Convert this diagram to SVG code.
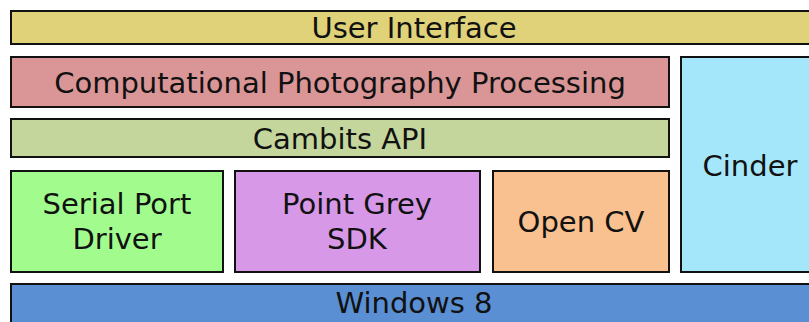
<svg xmlns="http://www.w3.org/2000/svg" width="809" height="322" viewBox="0 0 809 322">
<style>
rect{stroke:#111;stroke-width:2}
text{font-family:"DejaVu Sans",Verdana,sans-serif;font-size:29px;fill:#111;text-anchor:middle}
</style>
<rect width="809" height="322" fill="#fff" style="stroke:none"/>
<g id="ui"><rect x="11" y="11" width="810" height="33" fill="#e0d279"/><text x="414" y="38">User Interface</text></g>
<g id="cpp"><rect x="11" y="57" width="658" height="50" fill="#da9696"/><text x="340" y="93">Computational Photography Processing</text></g>
<g id="cambits"><rect x="11" y="119" width="658" height="38" fill="#c4d69c"/><text x="340" y="149">Cambits API</text></g>
<g id="serial"><rect x="11" y="171" width="212" height="101" fill="#a1fc8d"/><text x="117" y="214">Serial Port</text><text x="117" y="249">Driver</text></g>
<g id="pointgrey"><rect x="235" y="171" width="245" height="101" fill="#d799e7"/><text x="357" y="214">Point Grey</text><text x="357" y="249">SDK</text></g>
<g id="opencv"><rect x="493" y="171" width="176" height="101" fill="#f9c090"/><text x="581" y="232">Open CV</text></g>
<g id="cinder"><rect x="681" y="57" width="140" height="215" fill="#a5e7fa"/><text x="750" y="176">Cinder</text></g>
<g id="windows"><rect x="11" y="284" width="810" height="50" fill="#5a8fd3"/><text x="414" y="313">Windows 8</text></g>
<g id="connectors"/>
</svg>
